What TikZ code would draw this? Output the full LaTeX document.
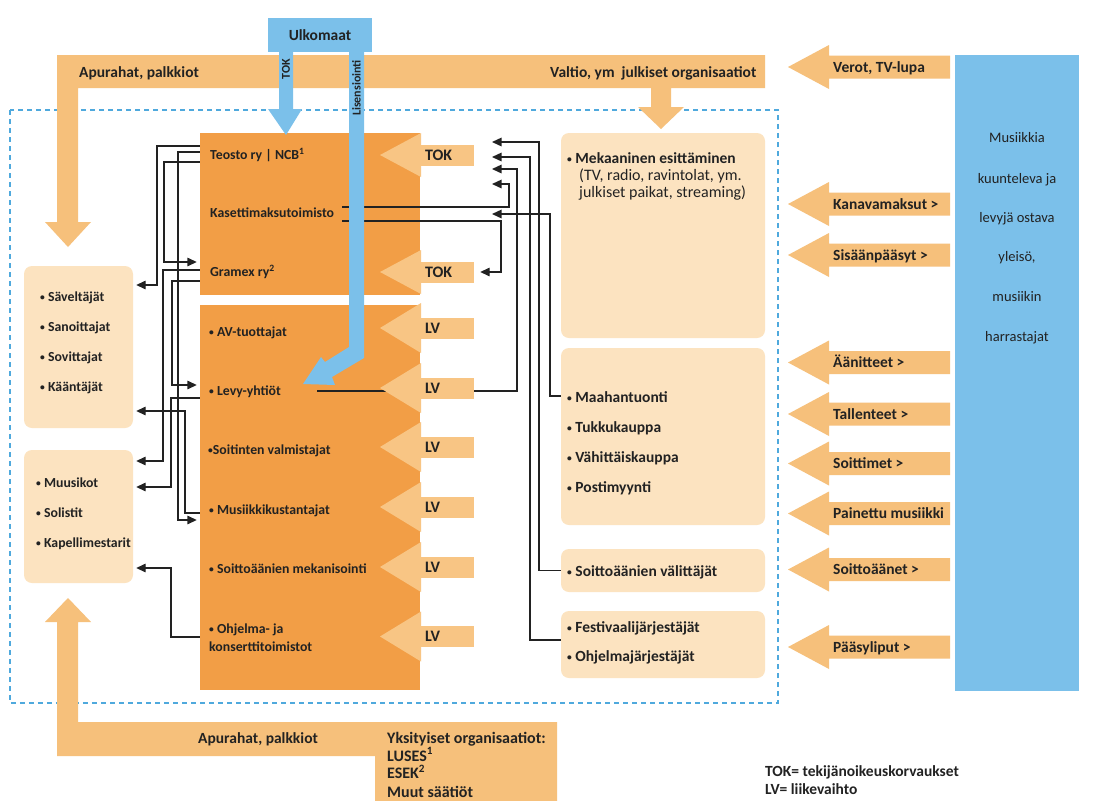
\documentclass[tikz,border=0pt]{standalone}
\usepackage{fontspec}
\setmainfont{Carlito}
\usetikzlibrary{arrows.meta}
\definecolor{dorange}{HTML}{F29E46}
\definecolor{lorange}{HTML}{F8C584}
\definecolor{borange}{HTML}{F6C07B}
\definecolor{pale}{HTML}{FCE3C0}
\definecolor{sky}{HTML}{7BC0EA}
\definecolor{dashblue}{HTML}{4FA9DD}
\definecolor{ink}{HTML}{222222}
\newcommand{\fntbox}{\bfseries\fontsize{13.8}{16}\selectfont}
\newcommand{\fntband}{\bfseries\fontsize{15.5}{18}\selectfont}
\newcommand{\fntright}{\bfseries\fontsize{15.5}{18}\selectfont}
\newcommand{\fntreg}{\fontsize{14.5}{17}\selectfont}
\newcommand{\fntmek}{\fontsize{16}{18}\selectfont}
\newcommand{\fntsmall}{\bfseries\fontsize{12}{14}\selectfont}
\newcommand{\bul}{\raisebox{0.6pt}{\fontsize{9.5}{9.5}\selectfont •}}
\newcommand{\inarrow}[4]{%
  \fill[lorange] (380,#2) -- (421,#2-#4) -- (421,#2+#4) -- cycle;
  \node[fill=lorange, minimum width=53pt, minimum height=21pt, text width=45pt, align=left, font=\bfseries\fontsize{16}{18}\selectfont] (#1) at (447.5,#2) {#3};}
\newcommand{\bigarrow}[3]{%
  \fill[borange] (788,#2) -- (829,#2-22) -- (829,#2-11.5) -- (950,#2-11.5) -- (950,#2+11.5) -- (829,#2+11.5) -- (829,#2+22) -- cycle;
  \node[lab, font=\fntright] (#1) at (833,#2+5) {#3};}
\begin{document}
\begin{tikzpicture}[x=1pt,y=-1pt,
  every node/.style={inner sep=0pt, text=ink},
  lab/.style={anchor=base west},
  conn/.style={draw=ink, line width=1.4pt},
  arr/.style={conn, -{Triangle[length=9.5pt,width=8.5pt]}},
  palebox/.style={fill=pale, rounded corners=8pt},
  orbox/.style={fill=dorange}]
\useasboundingbox (0,0) rectangle (1104,801);
\fill[white] (0,0) rectangle (1104,801);

% dashed frame
\draw[dashblue, line width=1.6pt, dash pattern=on 5pt off 4pt] (10,110) rectangle (778,703);

% bands
\fill[borange] (57,55) -- (765,55) -- (765,88) -- (671,88) -- (671,107) -- (684,107) -- (661,129) -- (638,107) -- (651,107) -- (651,88) -- (78,88) -- (78,222) -- (91,222) -- (68,247) -- (45,222) -- (57,222) -- cycle;
\fill[borange] (68,598) -- (91,622) -- (78,622) -- (78,722) -- (557,722) -- (557,801) -- (375,801) -- (375,756) -- (57,756) -- (57,622) -- (45,622) -- cycle;

% boxes
\node[palebox, minimum width=109pt, minimum height=162pt] (savbox) at (78.5,347) {};
\node[palebox, minimum width=109pt, minimum height=133pt] (muubox) at (78.5,516.5) {};
\node[palebox, minimum width=204pt, minimum height=205pt] (mekbox) at (663,235.5) {};
\node[palebox, minimum width=204pt, minimum height=177pt] (tradebox) at (663,436.5) {};
\node[palebox, minimum width=204pt, minimum height=43pt] (svabox) at (663,570.5) {};
\node[palebox, minimum width=204pt, minimum height=67pt] (festbox) at (663,644.5) {};
\node[orbox, minimum width=220pt, minimum height=162pt] (upbox) at (310,214) {};
\node[orbox, minimum width=220pt, minimum height=385pt] (lowbox) at (310,497.5) {};

% texts in orange boxes
\node[lab, font=\fntbox] (teosto) at (210,159.5) {Teosto ry | NCB\textsuperscript{1}};
\node[lab, font=\fntbox] (kas) at (210,217.5) {Kasettimaksutoimisto};
\node[lab, font=\fntbox] (gramex) at (210,276.5) {Gramex ry\textsuperscript{2}};
\node[lab, font=\fntbox] (av) at (209,336.5) {\bul\ AV-tuottajat};
\node[lab, font=\fntbox] (levy) at (209,395.5) {\bul\ Levy-yhtiöt};
\node[lab, font=\fntbox] (soit) at (208,454.5) {\bul Soitinten valmistajat};
\node[lab, font=\fntbox] (musk) at (209,514.5) {\bul\ Musiikkikustantajat};
\node[lab, font=\fntbox] (mekan) at (209,573.5) {\bul\ Soittoäänien mekanisointi};
\node[lab, font=\fntbox] (ohj1) at (209,633.5) {\bul\ Ohjelma- ja};
\node[lab, font=\fntbox] (ohj2) at (209,651.5) {konserttitoimistot};

% coordinates for connector ends
\coordinate (kas1) at (342,207);
\coordinate (kas2) at (342,221);
\coordinate (in1) at (492,142);
\coordinate (in2) at (492,157);
\coordinate (in3) at (492,169);
\coordinate (in4) at (492,184);
\coordinate (in5) at (492,214);

% left connectors
\draw[arr, shorten >=3pt] (upbox.west |- 0,146) -| (157,285) -- (savbox.east |- 0,285);
\draw[arr, shorten >=3pt] (upbox.west |- 0,152) -| (178,520) -- (lowbox.west |- 0,520);
\draw[arr, shorten >=3pt] (upbox.west |- 0,162) -| (164,262) -- (upbox.west |- 0,262);
\draw[arr, shorten >=3pt] (upbox.west |- 0,270) -| (163,461) -- (muubox.east |- 0,461);
\draw[arr, shorten >=3pt] (upbox.west |- 0,281) -| (172,385) -- (lowbox.west |- 0,385);
\draw[arr, shorten >=3pt] (lowbox.west |- 0,398) -| (171,487) -- (muubox.east |- 0,487);
\draw[arr, shorten >=3pt] (lowbox.west |- 0,513) -| (185,411) -- (savbox.east |- 0,411);
\draw[arr, shorten >=3pt] (lowbox.west |- 0,637) -| (171,568) -- (muubox.east |- 0,568);

% right connectors
\draw[arr] (svabox.west) -| (539,142) -- (in1);
\draw[arr] (festbox.west |- 0,640) -| (530,157) -- (in2);
\draw[arr, shorten <=36pt] (levy.east |- 0,391) -- (517,391) -- (517,169) -- (in3);
\draw[arr] (kas1) -| (509,184) -- (in4);
\draw[arr] (tradebox.west |- 0,396) -| (550,214) -- (in5);

% TOK / LV arrows
\inarrow{tok1}{155}{TOK}{22}
\inarrow{tok2}{272}{TOK}{22}
\draw[arr, shorten >=6pt] (kas2) -| (501,272) -- (tok2.east);
\inarrow{lv1}{328}{LV}{25}
\inarrow{lv2}{388}{LV}{25}
\inarrow{lv3}{447}{LV}{25}
\inarrow{lv4}{507}{LV}{25}
\inarrow{lv5}{567}{LV}{25}
\inarrow{lv6}{636.5}{LV}{25}

% blue shapes
\node[fill=sky, minimum width=104pt, minimum height=34pt, font=\bfseries\fontsize{15.5}{18}\selectfont] (ulk) at (320,35) {Ulkomaat};
\fill[sky] (279,52) -- (293,52) -- (293,109) -- (302,109) -- (286,135) -- (268,109) -- (279,109) -- cycle;
\node[rotate=90, font=\fntsmall] (tokb) at (286,69) {TOK};
\fill[sky] (349,52) -- (364,52) -- (364,358) -- (332,377) -- (335,385) -- (303,384) -- (321,357) -- (325,362) -- (349,347) -- cycle;
\node[rotate=90, font=\fntsmall] (lis) at (356.5,88) {Lisensiointi};

% audience
\node[fill=sky, minimum width=124pt, minimum height=636pt] (aud) at (1017,373) {};
\node[anchor=base, font=\fntreg] (aud1) at (1017,142.5) {Musiikkia};
\node[anchor=base, font=\fntreg] (aud2) at (1017,183.5) {kuunteleva ja};
\node[anchor=base, font=\fntreg] (aud3) at (1017,222.5) {levyjä ostava};
\node[anchor=base, font=\fntreg] (aud4) at (1017,261.5) {yleisö,};
\node[anchor=base, font=\fntreg] (aud5) at (1017,301.5) {musiikin};
\node[anchor=base, font=\fntreg] (aud6) at (1017,341.5) {harrastajat};

% right big arrows
\bigarrow{verot}{67}{Verot, TV-lupa}
\bigarrow{kana}{204}{Kanavamaksut >}
\bigarrow{sisa}{255}{Sisäänpääsyt >}
\bigarrow{aani}{362.5}{Äänitteet >}
\bigarrow{tall}{414}{Tallenteet >}
\bigarrow{soitt}{463.5}{Soittimet >}
\bigarrow{pain}{513.5}{Painettu musiikki}
\bigarrow{soa}{569.5}{Soittoäänet >}
\bigarrow{paas}{647}{Pääsyliput >}

% band texts
\node[lab, font=\fntband] (apu1) at (79,77) {Apurahat, palkkiot};
\node[lab, font=\fntband] (valtio) at (550,77) {Valtio, ym~ julkiset organisaatiot};
\node[lab, font=\fntband] (apu2) at (198,743) {Apurahat, palkkiot};
\node[lab, font=\bfseries\fontsize{16}{18}\selectfont] (yks1) at (387,743) {Yksityiset organisaatiot:};
\node[lab, font=\bfseries\fontsize{16}{18}\selectfont] (yks2) at (387,761) {LUSES\textsuperscript{1}};
\node[lab, font=\bfseries\fontsize{16}{18}\selectfont] (yks3) at (387,778.5) {ESEK\textsuperscript{2}};
\node[lab, font=\bfseries\fontsize{16}{18}\selectfont] (yks4) at (387,797) {Muut säätiöt};

% left boxes texts
\node[lab, font=\fntbox] (sav) at (40,301.5) {\bul\ Säveltäjät};
\node[lab, font=\fntbox] (san) at (40,331.5) {\bul\ Sanoittajat};
\node[lab, font=\fntbox] (sov) at (40,361.5) {\bul\ Sovittajat};
\node[lab, font=\fntbox] (kaa) at (40,391.5) {\bul\ Kääntäjät};
\node[lab, font=\fntbox] (muu) at (36,487.5) {\bul\ Muusikot};
\node[lab, font=\fntbox] (sol) at (36,517.5) {\bul\ Solistit};
\node[lab, font=\fntbox] (kap) at (36,547.5) {\bul\ Kapellimestarit};

% right boxes texts
\node[lab, font=\fntright] (mek1) at (567,163) {\bul\ Mekaaninen esittäminen};
\node[lab, font=\fntmek] (mek2) at (579,180.5) {(TV, radio, ravintolat, ym.};
\node[lab, font=\fntmek] (mek3) at (579,197.5) {julkiset paikat, streaming)};
\node[lab, font=\fntright] (maa) at (567,402) {\bul\ Maahantuonti};
\node[lab, font=\fntright] (tuk) at (567,432) {\bul\ Tukkukauppa};
\node[lab, font=\fntright] (vah) at (567,462) {\bul\ Vähittäiskauppa};
\node[lab, font=\fntright] (pos) at (567,492) {\bul\ Postimyynti};
\node[lab, font=\fntright] (sva) at (567,576) {\bul\ Soittoäänien välittäjät};
\node[lab, font=\fntright] (fes) at (567,632) {\bul\ Festivaalijärjestäjät};
\node[lab, font=\fntright] (ohm) at (567,661) {\bul\ Ohjelmajärjestäjät};

% legend
\node[lab, font=\bfseries\fontsize{15.5}{18}\selectfont] (leg1) at (765,776) {TOK= tekijänoikeuskorvaukset};
\node[lab, font=\bfseries\fontsize{15.5}{18}\selectfont] (leg2) at (765,794) {LV= liikevaihto};
\end{tikzpicture}
\end{document}
